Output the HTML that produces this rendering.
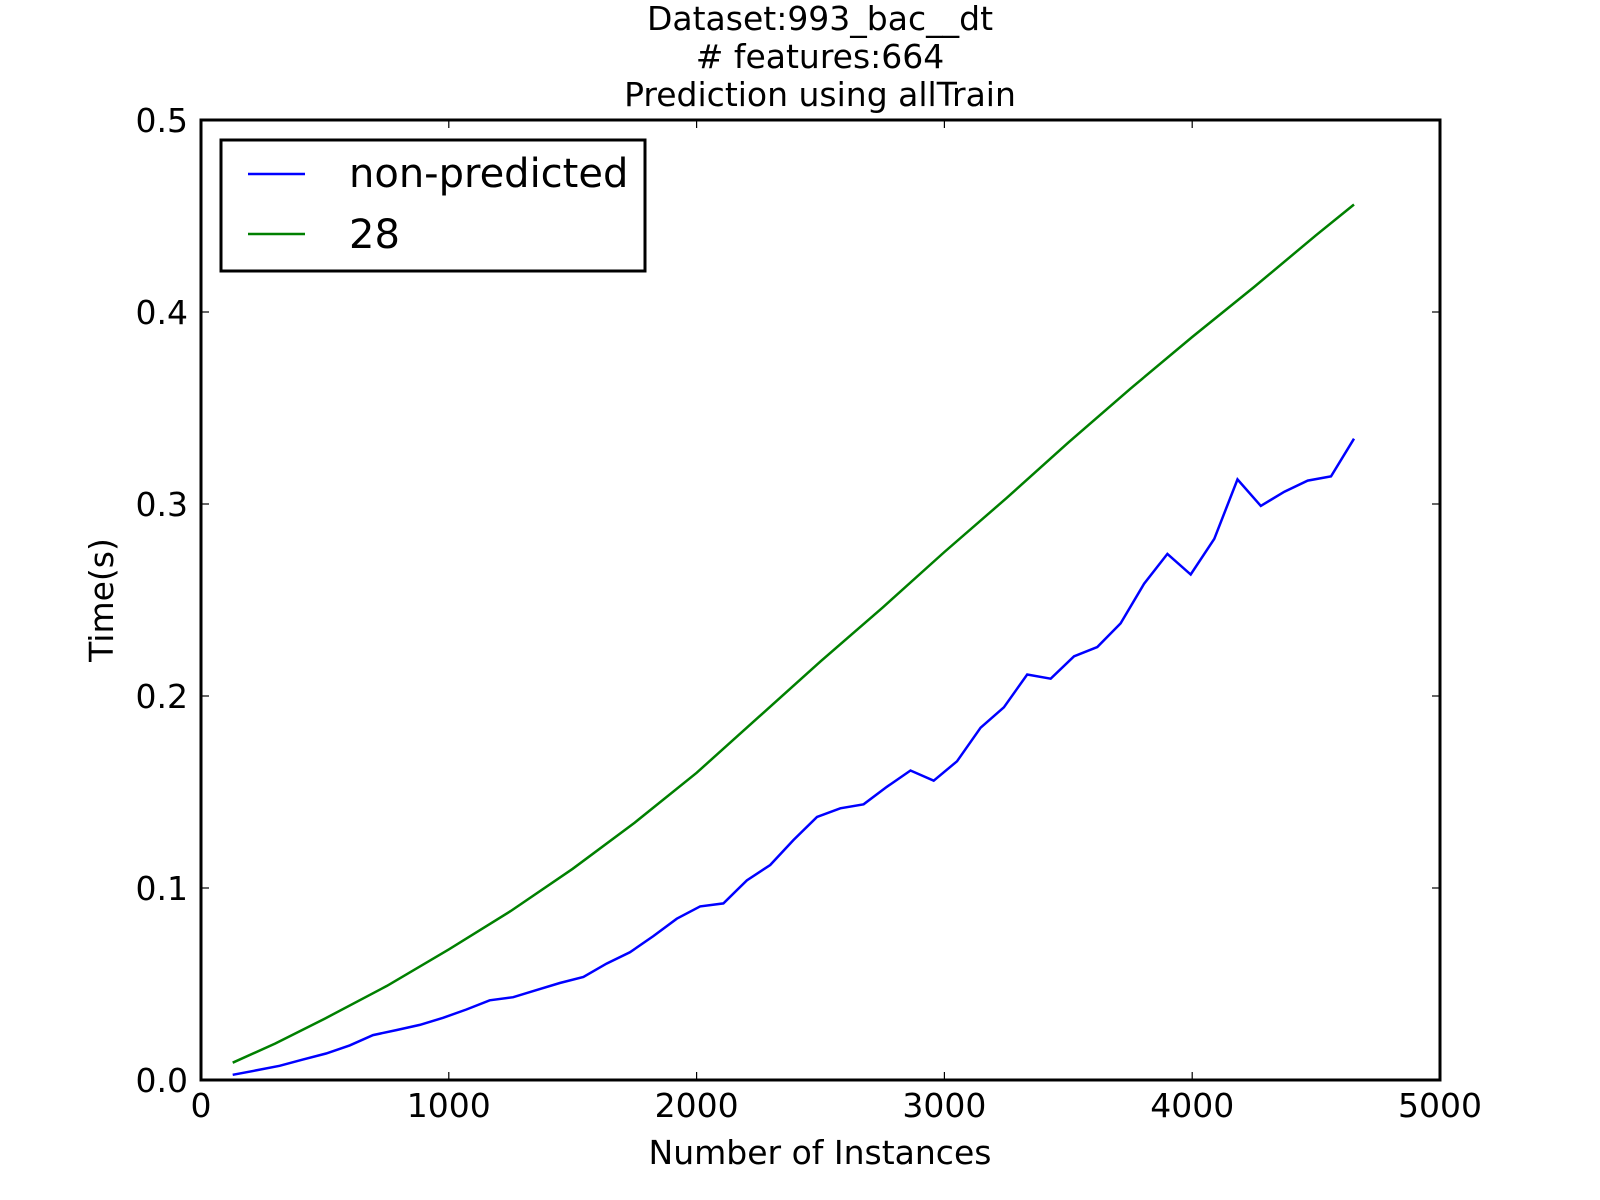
<!DOCTYPE html>
<html><head><meta charset="utf-8"><style>
html,body{margin:0;padding:0;background:#fff;}
svg{display:block;font-family:"DejaVu Sans","Liberation Sans",sans-serif;}
</style></head><body>
<svg id="chart" width="1600" height="1200" viewBox="0 0 1600 1200">
<g font-size="33" text-anchor="middle" fill="#000">
<text x="820" y="30">Dataset:993_bac__dt</text>
<text x="820" y="68"># features:664</text>
<text x="820" y="106">Prediction using allTrain</text>
</g>
<g id="plot"></g>
<text x="820" y="1164" font-size="33" text-anchor="middle">Number of Instances</text>
<text x="0" y="0" font-size="33" text-anchor="middle" transform="translate(113,600) rotate(-90)">Time(s)</text>
<g>
<rect x="221" y="140" width="424" height="131" fill="#fff" stroke="#000" stroke-width="3"/>
<line x1="248" y1="174" x2="305" y2="174" stroke="#0000ff" stroke-width="2.5"/>
<text x="349" y="187" font-size="40">non-predicted</text>
<line x1="248" y1="234" x2="305" y2="234" stroke="#008000" stroke-width="2.5"/>
<text x="349" y="248" font-size="40">28</text>
</g>
</svg>
<script>
const xTicks = [0, 1000, 2000, 3000, 4000, 5000];
const xTickLabels = ["0", "1000", "2000", "3000", "4000", "5000"];
const yTicks = [0, 0.1, 0.2, 0.3, 0.4, 0.5];
const yTickLabels = ["0.0", "0.1", "0.2", "0.3", "0.4", "0.5"];
const blueX = [128,222,317,411,505,600,694,788,883,977,1071,1165,1260,1354,1448,1543,1637,1731,1826,1920,2014,2108,2203,2297,2391,2486,2580,2674,2768,2863,2957,3051,3146,3240,3334,3429,3523,3617,3711,3806,3900,3994,4089,4183,4277,4372,4466,4560,4653];
const blueY = [0.0027,0.005,0.0074,0.0106,0.0138,0.018,0.0234,0.026,0.0287,0.0324,0.0367,0.0415,0.0431,0.0468,0.0505,0.0537,0.0606,0.0665,0.075,0.084,0.0904,0.092,0.104,0.112,0.125,0.137,0.1415,0.1436,0.1527,0.1612,0.1559,0.166,0.1835,0.1941,0.2112,0.209,0.2207,0.2255,0.2378,0.2585,0.274,0.2633,0.2819,0.3128,0.299,0.3064,0.3122,0.3144,0.334];
const greenX = [128,300,500,750,1000,1250,1500,1750,2000,2250,2500,2750,3000,3250,3500,3750,4000,4250,4500,4653];
const greenY = [0.009,0.019,0.032,0.049,0.068,0.088,0.110,0.134,0.160,0.189,0.218,0.246,0.275,0.303,0.332,0.360,0.387,0.413,0.440,0.456];

const L=201,R=1440,T=120,B=1080;
const sx=v=>L+(v-0)/(5000-0)*(R-L);
const sy=v=>B-(v-0)/(0.5-0)*(B-T);
const NS="http://www.w3.org/2000/svg";
const plot=document.getElementById('plot');
function mk(tag,attrs){const e=document.createElementNS(NS,tag);for(const k in attrs)e.setAttribute(k,attrs[k]);plot.appendChild(e);return e;}

function series(xs,ys,color,name){
  const pts=xs.map((x,i)=>sx(x).toFixed(1)+','+sy(ys[i]).toFixed(1)).join(' ');
  const p=mk('polyline',{points:pts,fill:'none',stroke:color,'stroke-width':2.5,'stroke-linejoin':'miter'});
  
  
}
series(greenX,greenY,'#008000','series-28-line');
series(blueX,blueY,'#0000ff','series-non-predicted-line');

xTicks.forEach((v,i)=>{
  const x=sx(v);
  const t1=mk('line',{x1:x,y1:B,x2:x,y2:B-8,stroke:'#000','stroke-width':1.2});
  
  
  const t2=mk('line',{x1:x,y1:T,x2:x,y2:T+8,stroke:'#000','stroke-width':1.2});
  
  
  const lb=mk('text',{x:x,y:1117,'font-size':33,'text-anchor':'middle'});
  lb.textContent=xTickLabels[i];
  
  
});
yTicks.forEach((v,i)=>{
  const y=sy(v);
  const t1=mk('line',{x1:L,y1:y,x2:L+8,y2:y,stroke:'#000','stroke-width':1.2});
  
  
  const t2=mk('line',{x1:R,y1:y,x2:R-8,y2:y,stroke:'#000','stroke-width':1.2});
  
  
  const lb=mk('text',{x:188,y:y+12,'font-size':33,'text-anchor':'end'});
  lb.textContent=yTickLabels[i];
  
  
});
const frame=mk('rect',{x:L,y:T,width:R-L,height:B-T,fill:'none',stroke:'#000','stroke-width':3});


</script>
</body></html>
